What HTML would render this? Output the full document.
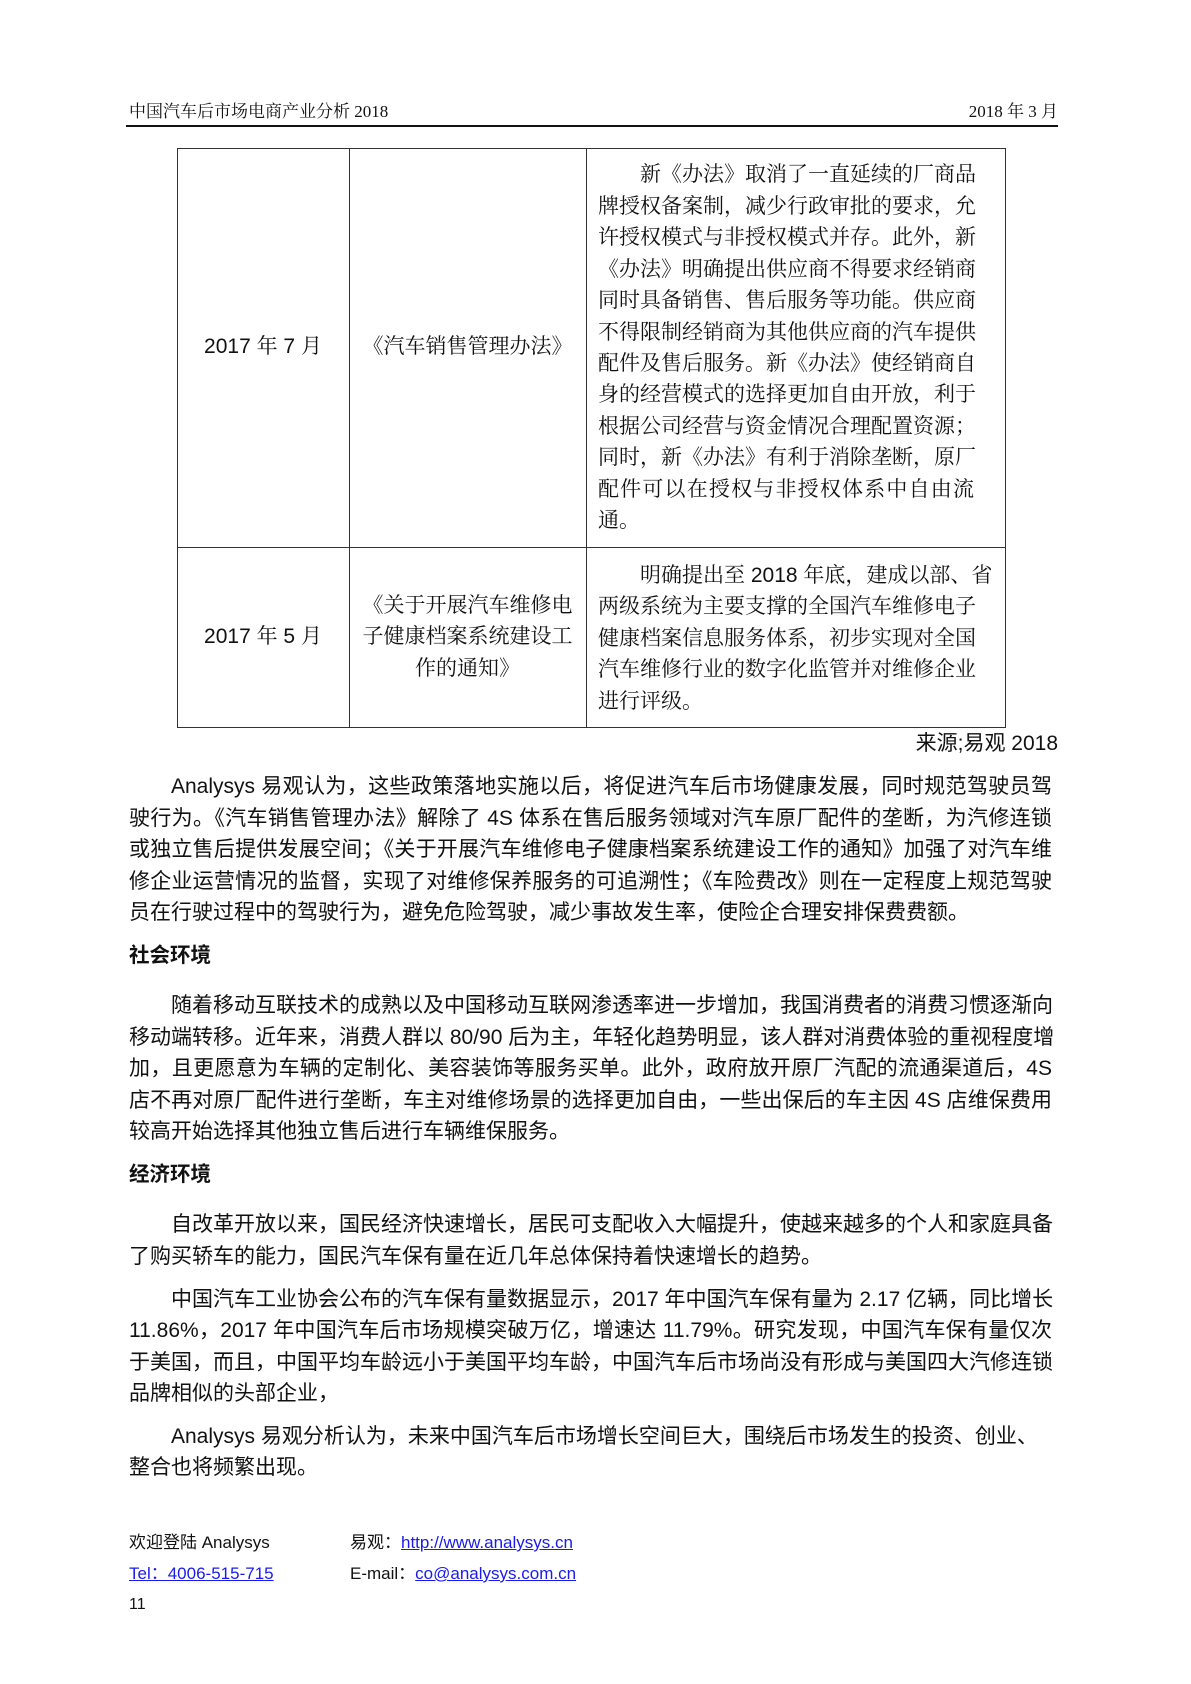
<!DOCTYPE html>
<html><head><meta charset="utf-8"><style>
body{margin:0;background:#fff;}
#p{position:relative;width:1191px;height:1684px;overflow:hidden;font-family:"Liberation Sans","Noto Sans CJK SC",sans-serif;color:#111;}
.a{position:absolute;white-space:nowrap;}
.l{position:absolute;left:129px;width:923px;height:32px;line-height:32px;font-size:21px;white-space:nowrap;text-align:justify;text-align-last:justify;}
.c{position:absolute;left:598px;width:376px;height:32px;line-height:32px;font-size:21px;white-space:nowrap;text-align:justify;text-align-last:justify;font-family:"Liberation Sans","Noto Serif CJK SC",serif;}
.l.e,.c.e{text-align:left;text-align-last:left;}
.h{font-weight:bold;font-size:20.5px;}
a{color:#1a1aee;text-decoration:underline;}
.ln{position:absolute;background:#333;}
</style></head><body><div id="p">
<div class="a" style="left:129px;top:97px;font-size:17px;font-family:'Liberation Serif','Noto Serif CJK SC',serif;">中国汽车后市场电商产业分析 2018</div>
<div class="a" style="right:133px;top:97px;font-size:17px;font-family:'Liberation Serif','Noto Serif CJK SC',serif;">2018 年 3 月</div>
<div class="ln" style="left:126px;top:125px;width:932px;height:2px;background:#111"></div>

<div class="ln" style="left:177px;top:148px;width:829px;height:1px"></div>
<div class="ln" style="left:177px;top:547px;width:829px;height:1px"></div>
<div class="ln" style="left:177px;top:727px;width:829px;height:1px"></div>
<div class="ln" style="left:177px;top:148px;width:1px;height:580px"></div>
<div class="ln" style="left:349px;top:148px;width:1px;height:580px"></div>
<div class="ln" style="left:586px;top:148px;width:1px;height:580px"></div>
<div class="ln" style="left:1005px;top:148px;width:1px;height:580px"></div>

<div class="a" style="left:177px;width:172px;text-align:center;top:331px;font-size:21px;line-height:32px;font-family:'Liberation Sans','Noto Serif CJK SC',serif">2017 年 7 月</div>
<div class="a" style="left:349px;width:237px;text-align:center;top:331px;font-size:21px;line-height:32px;font-family:'Liberation Sans','Noto Serif CJK SC',serif">《汽车销售管理办法》</div>
<div class="c" style="top:159px;left:640px;width:334px">新《办法》取消了一直延续的厂商品</div>
<div class="c" style="top:191px">牌授权备案制，减少行政审批的要求，允</div>
<div class="c" style="top:222px">许授权模式与非授权模式并存。此外，新</div>
<div class="c" style="top:254px">《办法》明确提出供应商不得要求经销商</div>
<div class="c" style="top:285px">同时具备销售、售后服务等功能。供应商</div>
<div class="c" style="top:317px">不得限制经销商为其他供应商的汽车提供</div>
<div class="c" style="top:348px">配件及售后服务。新《办法》使经销商自</div>
<div class="c" style="top:379px">身的经营模式的选择更加自由开放，利于</div>
<div class="c" style="top:411px">根据公司经营与资金情况合理配置资源；</div>
<div class="c" style="top:442px">同时，新《办法》有利于消除垄断，原厂</div>
<div class="c" style="top:474px">配件可以在授权与非授权体系中自由流</div>
<div class="c e" style="top:505px">通。</div>

<div class="a" style="left:177px;width:172px;text-align:center;top:621px;font-size:21px;line-height:32px;font-family:'Liberation Sans','Noto Serif CJK SC',serif">2017 年 5 月</div>
<div class="a" style="left:349px;width:237px;text-align:center;top:590px;font-size:21px;line-height:31.4px;font-family:'Liberation Sans','Noto Serif CJK SC',serif;white-space:normal">《关于开展汽车维修电<br>子健康档案系统建设工<br>作的通知》</div>
<div class="c" style="top:560px;left:640px;width:334px">明确提出至 2018 年底，建成以部、省</div>
<div class="c" style="top:591px">两级系统为主要支撑的全国汽车维修电子</div>
<div class="c" style="top:623px">健康档案信息服务体系，初步实现对全国</div>
<div class="c" style="top:654px">汽车维修行业的数字化监管并对维修企业</div>
<div class="c e" style="top:686px">进行评级。</div>

<div class="a" style="right:133px;top:728px;font-size:21px;line-height:32px">来源;易观 2018</div>

<div class="l" style="top:771px;left:171px;width:881px">Analysys 易观认为，这些政策落地实施以后，将促进汽车后市场健康发展，同时规范驾驶员驾</div>
<div class="l" style="top:803px">驶行为。《汽车销售管理办法》解除了 4S 体系在售后服务领域对汽车原厂配件的垄断，为汽修连锁</div>
<div class="l" style="top:834px">或独立售后提供发展空间；《关于开展汽车维修电子健康档案系统建设工作的通知》加强了对汽车维</div>
<div class="l" style="top:866px">修企业运营情况的监督，实现了对维修保养服务的可追溯性；《车险费改》则在一定程度上规范驾驶</div>
<div class="l e" style="top:897px">员在行驶过程中的驾驶行为，避免危险驾驶，减少事故发生率，使险企合理安排保费费额。</div>

<div class="l e h" style="top:940px">社会环境</div>

<div class="l" style="top:990px;left:171px;width:881px">随着移动互联技术的成熟以及中国移动互联网渗透率进一步增加，我国消费者的消费习惯逐渐向</div>
<div class="l" style="top:1022px">移动端转移。近年来，消费人群以 80/90 后为主，年轻化趋势明显，该人群对消费体验的重视程度增</div>
<div class="l" style="top:1053px">加，且更愿意为车辆的定制化、美容装饰等服务买单。此外，政府放开原厂汽配的流通渠道后，4S</div>
<div class="l" style="top:1085px">店不再对原厂配件进行垄断，车主对维修场景的选择更加自由，一些出保后的车主因 4S 店维保费用</div>
<div class="l e" style="top:1116px">较高开始选择其他独立售后进行车辆维保服务。</div>

<div class="l e h" style="top:1159px">经济环境</div>

<div class="l" style="top:1209px;left:171px;width:881px">自改革开放以来，国民经济快速增长，居民可支配收入大幅提升，使越来越多的个人和家庭具备</div>
<div class="l e" style="top:1241px">了购买轿车的能力，国民汽车保有量在近几年总体保持着快速增长的趋势。</div>
<div class="l" style="top:1284px;left:171px;width:881px">中国汽车工业协会公布的汽车保有量数据显示，2017 年中国汽车保有量为 2.17 亿辆，同比增长</div>
<div class="l" style="top:1315px">11.86%，2017 年中国汽车后市场规模突破万亿，增速达 11.79%。研究发现，中国汽车保有量仅次</div>
<div class="l" style="top:1347px">于美国，而且，中国平均车龄远小于美国平均车龄，中国汽车后市场尚没有形成与美国四大汽修连锁</div>
<div class="l e" style="top:1378px">品牌相似的头部企业，</div>
<div class="l" style="top:1421px;left:171px;width:855px">Analysys 易观分析认为，未来中国汽车后市场增长空间巨大，围绕后市场发生的投资、创业、</div>
<div class="l e" style="top:1452px">整合也将频繁出现。</div>

<div class="a" style="left:129px;top:1531px;font-size:17px;line-height:24px">欢迎登陆 Analysys</div>
<div class="a" style="left:350px;top:1531px;font-size:17px;line-height:24px">易观：<a>http://www.analysys.cn</a></div>
<div class="a" style="left:129px;top:1562px;font-size:17px;line-height:24px"><a>Tel：4006-515-715</a></div>
<div class="a" style="left:350px;top:1562px;font-size:17px;line-height:24px">E-mail：<a>co@analysys.com.cn</a></div>
<div class="a" style="left:129px;top:1593px;font-size:16px;line-height:24px">11</div>
</div></body></html>
